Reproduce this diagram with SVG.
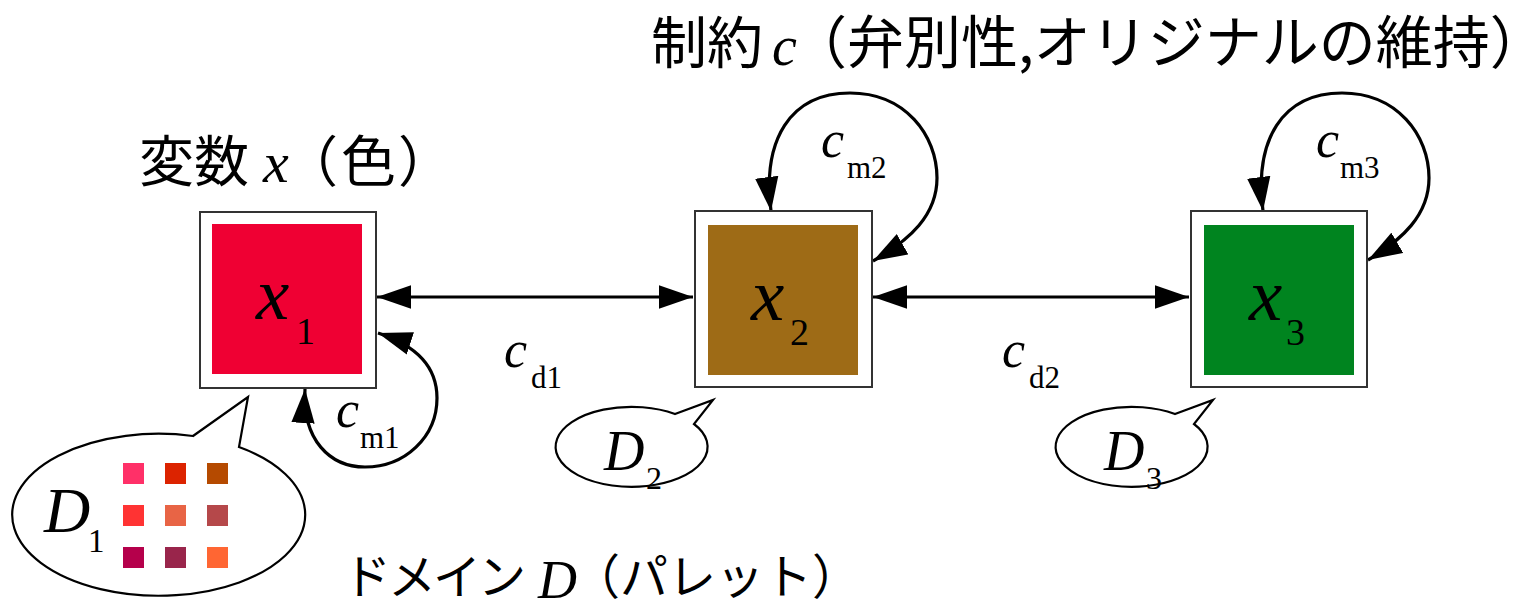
<svg xmlns="http://www.w3.org/2000/svg" width="1524" height="602" viewBox="0 0 1524 602">
<defs>
<style>
.frame{fill:#fff;stroke:#333;stroke-width:2}
.edge{fill:none;stroke:#000;stroke-width:3.2;marker-start:url(#ah);marker-end:url(#ah)}
.bubble{fill:#fff;stroke:#000;stroke-width:2.2;stroke-linejoin:miter}
.jp{font-family:"Noto Sans CJK JP","Noto Sans",sans-serif;fill:#000}
.it{font-family:"Liberation Serif",serif;font-style:italic;fill:#000}
.rm{font-family:"Liberation Serif",serif;fill:#000}
</style>
<marker id="ah" markerUnits="userSpaceOnUse" markerWidth="34" markerHeight="24" viewBox="0 0 32 22" refX="32" refY="11" orient="auto-start-reverse">
<path d="M0,0 L32,11 L0,22 z" fill="#000"/>
</marker>
</defs>
<rect width="1524" height="602" fill="#fff"/>

<g id="title-constraint">
<text class="jp" x="651" y="63" font-size="56">制約</text>
<text class="it" x="772" y="65" font-size="56">c</text>
<text class="jp" x="790" y="63" font-size="57">（弁別性,オリジナルの維持）</text>
</g>
<g id="title-variable">
<text class="jp" x="139" y="181" font-size="55">変数</text>
<text class="it" x="263" y="182" font-size="58">x</text>
<text class="jp" x="283" y="181" font-size="55">（</text>
<text class="jp" x="341" y="181" font-size="55">色</text>
<text class="jp" x="398" y="181" font-size="55">）</text>
</g>
<g id="title-domain">
<text class="jp" x="343" y="594" font-size="48" letter-spacing="-3">ドメイン</text>
<text class="it" x="538" y="598" font-size="54">D</text>
<text class="jp" x="572" y="594" font-size="48">（パレット）</text>
</g>

<g id="connectors">
<path class="edge" d="M377,297 L693,297"/>
<path class="edge" d="M873,297 L1189,297"/>
<path class="edge" d="M305,389 C302,440 330,467 365,467 C405,467 437,437 437,398 C437,365 415,345 378,333"/>
<path class="edge" d="M771,211 C762,140 790,93 850,93 C905,93 937,135 937,178 C937,215 910,240 873,261"/>
<path class="edge" d="M1263,211 C1254,140 1282,93 1342,93 C1397,93 1429,135 1429,178 C1429,215 1402,240 1368,260"/>
<text class="it" x="336" y="427" font-size="52">c</text><text class="rm" x="360" y="448" font-size="31">m1</text>
<text class="it" x="504" y="367" font-size="52">c</text><text class="rm" x="531" y="388" font-size="31">d1</text>
<text class="it" x="821" y="157" font-size="52">c</text><text class="rm" x="847" y="178" font-size="31">m2</text>
<text class="it" x="1002" y="367" font-size="52">c</text><text class="rm" x="1029" y="388" font-size="31">d2</text>
<text class="it" x="1316" y="157" font-size="52">c</text><text class="rm" x="1340" y="178" font-size="31">m3</text>
</g>

<g id="node-x1">
<rect class="frame" x="200" y="212" width="176" height="176"/>
<rect x="212" y="224" width="150" height="150" fill="#EF0033"/>
<text class="it" x="256" y="319" font-size="75">x</text>
<text class="rm" x="296" y="344" font-size="38">1</text>
</g>
<g id="node-x2">
<rect class="frame" x="695" y="211" width="177" height="176"/>
<rect x="708" y="225" width="150" height="150" fill="#9E6B16"/>
<text class="it" x="751" y="320" font-size="75">x</text>
<text class="rm" x="790" y="345" font-size="38">2</text>
</g>
<g id="node-x3">
<rect class="frame" x="1191" y="211" width="176" height="176"/>
<rect x="1204" y="225" width="150" height="150" fill="#00841F"/>
<text class="it" x="1249" y="320" font-size="75">x</text>
<text class="rm" x="1286" y="345" font-size="38">3</text>
</g>

<g id="domain-d1">
<path class="bubble" d="M193,436 L248,397 L239,447 A146.5,81 0 1 1 193,436 Z"/>
<text class="it" x="44" y="532" font-size="64">D</text>
<text class="rm" x="88" y="552" font-size="33">1</text>
<rect x="123" y="463" width="21" height="21" fill="#FF3068"/>
<rect x="165" y="463" width="21" height="21" fill="#DC2300"/>
<rect x="207" y="463" width="21" height="21" fill="#B54A00"/>
<rect x="123" y="505" width="21" height="21" fill="#FF3333"/>
<rect x="165" y="505" width="21" height="21" fill="#E86445"/>
<rect x="207" y="505" width="21" height="21" fill="#B5484A"/>
<rect x="123" y="547" width="21" height="21" fill="#B5004B"/>
<rect x="165" y="547" width="21" height="21" fill="#99254B"/>
<rect x="207" y="547" width="21" height="21" fill="#FF6633"/>
</g>
<g id="domain-d2">
<path class="bubble" d="M675,414 L713,400 L694,424 A76,40 0 1 1 675,414 Z"/>
<text class="it" x="604" y="470" font-size="56">D</text>
<text class="rm" x="646" y="489" font-size="32">2</text>
</g>
<g id="domain-d3">
<path class="bubble" d="M1175,414 L1213,400 L1194,424 A76,40 0 1 1 1175,414 Z"/>
<text class="it" x="1104" y="470" font-size="56">D</text>
<text class="rm" x="1146" y="489" font-size="32">3</text>
</g>
</svg>
